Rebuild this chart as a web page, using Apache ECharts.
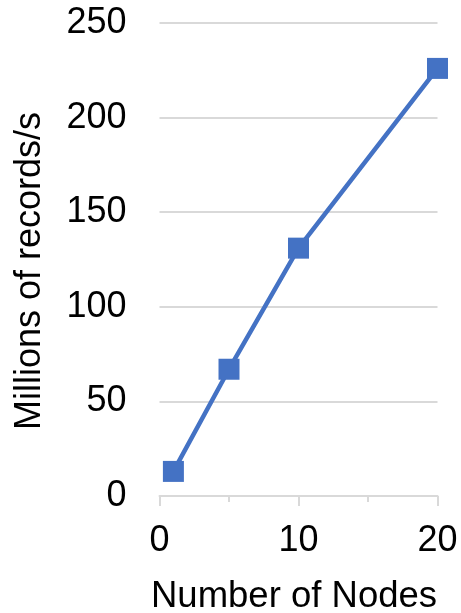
<!DOCTYPE html>
<html>
<head>
<meta charset="utf-8">
<script src="https://cdn.jsdelivr.net/npm/echarts@6/dist/echarts.min.js"></script>
<style>
  html, body { margin: 0; padding: 0; background: #fff; }
  #chart { width: 461px; height: 613px; }
</style>
</head>
<body>
<div id="chart"></div>
<script>
// Throughput measured for each cluster size
const nodes = [1, 5, 10, 20];
const recordsPerSec = [13, 67, 131, 226];

const xTitle = 'Number of Nodes';
const yTitle = 'Millions of records/s';

const points = nodes.map((n, i) => [n, recordsPerSec[i]]);

const font = '"Liberation Sans", Arial, sans-serif';
const gridColor = '#d9d9d9';
const lineColor = '#4472C4';

const chart = echarts.init(document.getElementById('chart'), null, { renderer: 'canvas' });
chart.setOption({
  backgroundColor: '#ffffff',
  animation: false,
  grid: {
    left: 159.5, right: 23.5, top: 23, bottom: 117,
    containLabel: false,
    outerBoundsMode: 'none'
  },
  xAxis: {
    type: 'value',
    min: 0,
    max: 20,
    interval: 10,
    name: xTitle,
    nameLocation: 'middle',
    nameGap: 82,
    nameTextStyle: { fontFamily: font, fontSize: 36.5, color: '#000', padding: [0, 9, 0, 0] },
    axisLine: { show: true, lineStyle: { color: gridColor, width: 2 } },
    axisTick: { show: true, length: 10, lineStyle: { color: gridColor, width: 2 } },
    minorTick: { show: true, splitNumber: 2, length: 6, lineStyle: { color: gridColor, width: 2 } },
    splitLine: { show: false },
    axisLabel: { fontFamily: font, fontSize: 36, color: '#000', margin: 27 }
  },
  yAxis: {
    type: 'value',
    min: 0,
    max: 250,
    interval: 50,
    name: yTitle,
    nameLocation: 'middle',
    nameGap: 111,
    nameRotate: 90,
    nameTextStyle: { fontFamily: font, fontSize: 36, color: '#000', padding: [0, 23, 0, 0] },
    axisLine: { show: false },
    axisTick: { show: false },
    splitLine: { show: true, lineStyle: { color: gridColor, width: 2 } },
    axisLabel: { fontFamily: font, fontSize: 36, color: '#000', margin: 33 }
  },
  series: [{
    type: 'line',
    data: points,
    symbol: 'rect',
    symbolSize: 21,
    lineStyle: { color: lineColor, width: 4.5 },
    itemStyle: { color: lineColor },
    z: 3
  }]
});
</script>
</body>
</html>
